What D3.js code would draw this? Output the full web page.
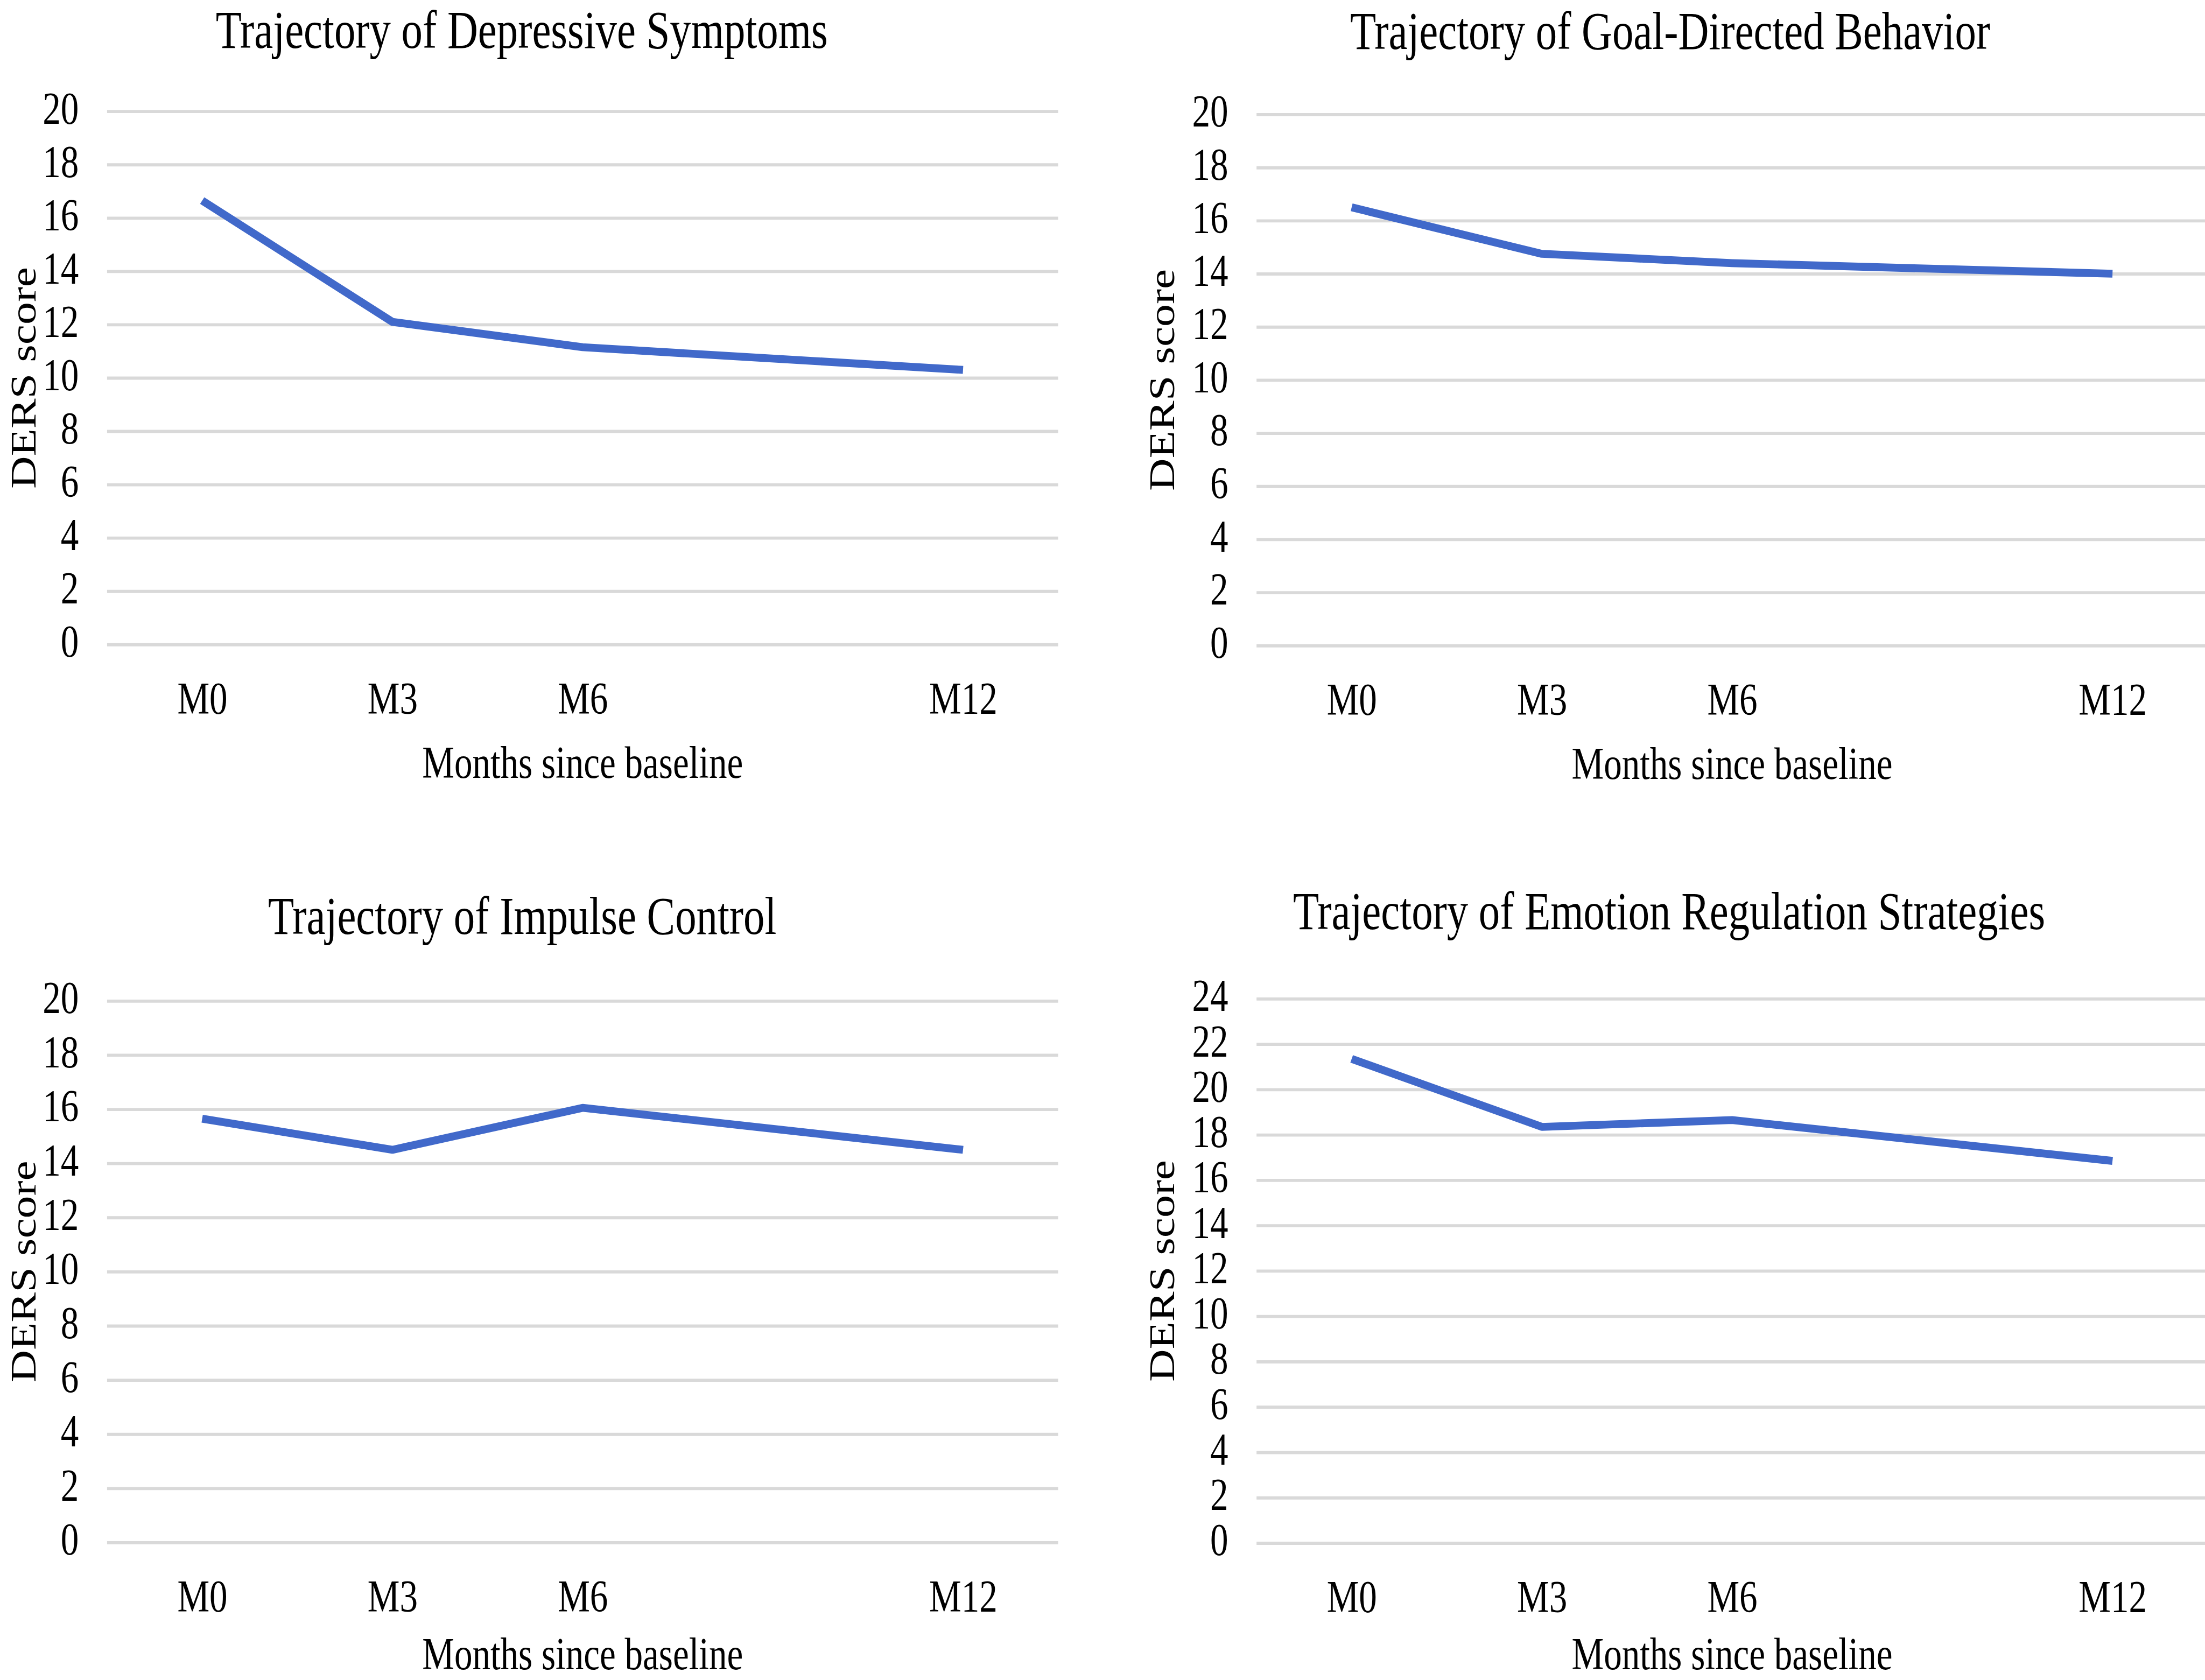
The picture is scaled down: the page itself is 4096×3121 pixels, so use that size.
<!DOCTYPE html>
<html>
<head>
<meta charset="utf-8">
<script src="https://cdn.jsdelivr.net/npm/d3@7"></script>
<style>
  html, body { margin: 0; padding: 0; background: #ffffff; }
  svg { display: block; }
</style>
</head>
<body>
<svg id="chart" width="4096" height="3121"></svg>
<script>
// ---------------- data ----------------
const months = [0, 3, 6, 12];
const monthLabels = ["M0", "M3", "M6", "M12"];
const titles = [
  "Trajectory of Depressive Symptoms",
  "Trajectory of Goal-Directed Behavior",
  "Trajectory of Impulse Control",
  "Trajectory of Emotion Regulation Strategies"
];
const depressiveSymptoms = [16.65, 12.1, 11.15, 10.3];
const goalDirectedBehavior = [16.5, 14.75, 14.4, 14.0];
const impulseControl = [15.65, 14.5, 16.05, 14.5];
const regulationStrategies = [21.35, 18.35, 18.65, 16.85];
const yTicks20 = [0, 2, 4, 6, 8, 10, 12, 14, 16, 18, 20];
const yTicks24 = [0, 2, 4, 6, 8, 10, 12, 14, 16, 18, 20, 22, 24];
const yAxisTitle = "DERS score";
const xAxisTitle = "Months since baseline";

const seriesList = [depressiveSymptoms, goalDirectedBehavior, impulseControl, regulationStrategies];
const tickSets = [yTicks20, yTicks20, yTicks20, yTicks24];

// ---------------- layout (reference pixel frame, 4200 x 3200) ----------------
const layout = [
  { left: 204,  right: 2016, top: 212,  bottom: 1228, titleX: 994,  titleY: 91,   labelX: 68,   xTitleDy: 254 },
  { left: 2394, right: 4206, top: 218,  bottom: 1230, titleX: 3182, titleY: 93,   labelX: 2237, xTitleDy: 254 },
  { left: 204,  right: 2016, top: 1907, bottom: 2939, titleX: 995,  titleY: 1779, labelX: 68,   xTitleDy: 242 },
  { left: 2394, right: 4206, top: 1903, bottom: 2940, titleX: 3180, titleY: 1770, labelX: 2237, xTitleDy: 241 }
];

const S = 0.975;      // overall scale to the window
const CX = 0.8;       // horizontal text compression seen in the reference
const FONT = "'Liberation Serif', 'Times New Roman', serif";
const LINE_COLOR = "#4169ca";
const GRID_COLOR = "#d9d9d9";

const svg = d3.select("#chart");
svg.append("rect").attr("width", 4096).attr("height", 3121).attr("fill", "#ffffff");
const root = svg.append("g").attr("transform", `scale(${S})`);

seriesList.forEach((vals, i) => {
  const L = layout[i];
  const ticks = tickSets[i];
  const x = d3.scaleLinear().domain([-1.5, 13.5]).range([L.left, L.right]);
  const y = d3.scaleLinear().domain([0, d3.max(ticks)]).range([L.bottom, L.top]);
  const g = root.append("g");

  // gridlines + y tick labels
  const ya = g.append("g")
    .attr("transform", `translate(${L.left},0)`)
    .call(d3.axisLeft(y).tickValues(ticks).tickSize(-(L.right - L.left)).tickPadding(0).tickFormat(d3.format("d")));
  ya.attr("font-family", FONT).attr("font-size", 86);
  ya.select(".domain").remove();
  ya.selectAll(".tick line").attr("stroke", GRID_COLOR).attr("stroke-width", 6);
  ya.selectAll(".tick text")
    .attr("x", null).attr("dy", null)
    .attr("text-anchor", "end")
    .attr("fill", "#000")
    .attr("transform", `translate(-54,23) scale(${CX},1)`);

  // x tick labels
  const xa = g.append("g")
    .attr("transform", `translate(0,${L.bottom})`)
    .call(d3.axisBottom(x).tickValues(months).tickSize(0).tickPadding(0)
      .tickFormat((d, j) => monthLabels[j]));
  xa.attr("font-family", FONT).attr("font-size", 86);
  xa.select(".domain").remove();
  xa.selectAll(".tick text")
    .attr("y", null).attr("dy", null)
    .attr("text-anchor", "middle")
    .attr("fill", "#000")
    .attr("transform", `translate(0,132) scale(${CX},1)`);

  // title
  g.append("text")
    .attr("transform", `translate(${L.titleX},${L.titleY}) scale(${CX},1)`)
    .attr("text-anchor", "middle")
    .attr("font-family", FONT)
    .attr("font-size", 101)
    .attr("fill", "#000")
    .text(titles[i]);

  // x axis title
  g.append("text")
    .attr("transform", `translate(${(L.left + L.right) / 2},${L.bottom + L.xTitleDy}) scale(${CX},1)`)
    .attr("text-anchor", "middle")
    .attr("font-family", FONT)
    .attr("font-size", 86)
    .attr("fill", "#000")
    .text(xAxisTitle);

  // y axis title
  g.append("text")
    .attr("transform", `translate(${L.labelX},${(L.top + L.bottom) / 2}) scale(${CX},1) rotate(-90)`)
    .attr("text-anchor", "middle")
    .attr("font-family", FONT)
    .attr("font-size", 86)
    .attr("fill", "#000")
    .text(yAxisTitle);

  // data line
  const line = d3.line()
    .x((d, j) => x(months[j]))
    .y(d => y(d));
  g.append("path")
    .datum(vals)
    .attr("d", line)
    .attr("fill", "none")
    .attr("stroke", LINE_COLOR)
    .attr("stroke-width", 15)
    .attr("stroke-linejoin", "round")
    .attr("stroke-linecap", "butt");
});
</script>
</body>
</html>
